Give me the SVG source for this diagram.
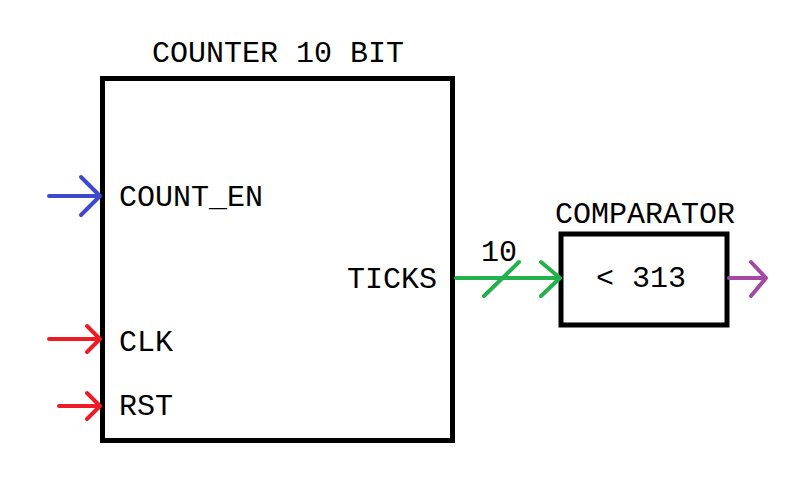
<svg xmlns="http://www.w3.org/2000/svg" width="808" height="496" viewBox="0 0 808 496">
<style>
.box{fill:none;stroke:#000;stroke-width:5}
.t{font-family:"Liberation Mono","Courier New",monospace;font-size:30px;fill:#000}
.w{fill:none;stroke-width:4;stroke-linecap:round;stroke-linejoin:round}
</style>
<rect width="808" height="496" fill="#fff"/>
<g id="counter">
<rect class="box" x="102.5" y="78.5" width="350" height="362"/>
<text class="t" x="278" y="62" text-anchor="middle">COUNTER 10 BIT</text>
<text class="t" x="119" y="206">COUNT_EN</text>
<text class="t" x="119" y="351">CLK</text>
<text class="t" x="119" y="415">RST</text>
<text class="t" x="437" y="288" text-anchor="end">TICKS</text>
</g>
<g id="comparator">
<rect class="box" x="561" y="234" width="166" height="91" stroke-width="4"/>
<text class="t" x="645" y="223" text-anchor="middle">COMPARATOR</text>
<text class="t" x="641" y="287" text-anchor="middle">&lt; 313</text>
</g>
<g id="connectors">
<g stroke="#3f48cc" class="w">
<path d="M49 196H100M81 177L100 196L81 215"/>
</g>
<g stroke="#ed1c24" class="w">
<path d="M49 339H100M87 326L100 339L87 352"/>
<path d="M59 406H100M87 393L100 406L87 419"/>
</g>
<g stroke="#22b14c" class="w">
<path d="M456 278H560M541 262L560 278L541 296"/>
<path d="M484 296L519 262"/>
</g>
<text class="t" x="481" y="261">10</text>
<g stroke="#a349a4" class="w">
<path d="M729 278H766M751 262L766 278L751 296"/>
</g>
</g>
</svg>
